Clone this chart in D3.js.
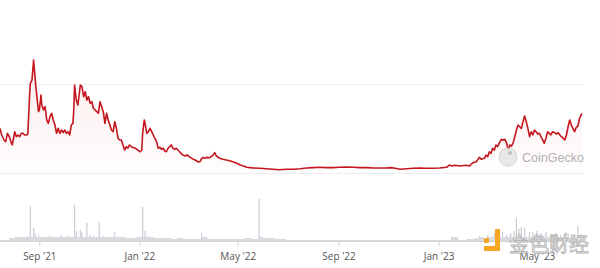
<!DOCTYPE html>
<html>
<head>
<meta charset="utf-8">
<script src="https://cdn.jsdelivr.net/npm/d3@7"></script>
<style>
  body { margin: 0; background: #fff; }
  svg { display: block; font-family: "Open Sans", sans-serif; }
</style>
</head>
<body>
<svg id="chart"></svg>
<script>
const priceDates = [
  "2021-07-15","2021-07-17","2021-07-20","2021-07-22","2021-07-24","2021-07-26","2021-07-29","2021-07-30",
  "2021-08-02","2021-08-04","2021-08-06","2021-08-08","2021-08-10","2021-08-12","2021-08-14","2021-08-17",
  "2021-08-18","2021-08-20","2021-08-21","2021-08-23","2021-08-25","2021-08-27","2021-08-29","2021-08-31",
  "2021-09-01","2021-09-03","2021-09-04","2021-09-06","2021-09-08","2021-09-10","2021-09-12","2021-09-14",
  "2021-09-16","2021-09-18","2021-09-20","2021-09-22","2021-09-24","2021-09-26","2021-09-28","2021-09-30",
  "2021-10-02","2021-10-04","2021-10-06","2021-10-08","2021-10-10","2021-10-12","2021-10-13","2021-10-14",
  "2021-10-16","2021-10-18","2021-10-21","2021-10-23","2021-10-25","2021-10-27","2021-10-29","2021-10-31",
  "2021-11-02","2021-11-04","2021-11-06","2021-11-10","2021-11-12",
  "2021-11-14","2021-11-16","2021-11-18","2021-11-20","2021-11-22","2021-11-24","2021-11-26","2021-11-28",
  "2021-11-30","2021-12-02","2021-12-04","2021-12-06","2021-12-08","2021-12-10","2021-12-12","2021-12-14",
  "2021-12-16","2021-12-18","2021-12-20","2021-12-23","2021-12-24","2021-12-27","2021-12-29","2021-12-31",
  "2022-01-02","2022-01-04","2022-01-05","2022-01-07","2022-01-08","2022-01-10","2022-01-12","2022-01-14",
  "2022-01-16","2022-01-18","2022-01-20","2022-01-22","2022-01-24","2022-01-26","2022-01-28","2022-01-30",
  "2022-02-01","2022-02-03","2022-02-05","2022-02-07","2022-02-09","2022-02-11","2022-02-13","2022-02-15",
  "2022-02-17","2022-02-19","2022-02-21","2022-02-23","2022-02-26","2022-02-28","2022-03-02","2022-03-04",
  "2022-03-06","2022-03-08","2022-03-10","2022-03-12","2022-03-14","2022-03-16",
  "2022-03-18","2022-03-20","2022-03-22","2022-03-24","2022-03-28","2022-04-01","2022-04-03","2022-04-05",
  "2022-04-09","2022-04-13","2022-04-17","2022-04-21","2022-04-25","2022-04-30","2022-05-04","2022-05-08",
  "2022-05-12","2022-05-16","2022-05-20","2022-05-28","2022-06-05","2022-06-13","2022-06-21","2022-06-29",
  "2022-07-08","2022-07-16","2022-07-24","2022-08-01","2022-08-09","2022-08-17","2022-08-25","2022-09-02",
  "2022-09-11","2022-09-19","2022-09-27","2022-10-05","2022-10-13","2022-10-21","2022-10-29","2022-11-04",
  "2022-11-09","2022-11-15",
  "2022-11-23","2022-12-01","2022-12-09","2022-12-17","2022-12-25","2023-01-02","2023-01-11","2023-01-14",
  "2023-01-17","2023-01-21","2023-01-27","2023-02-04","2023-02-08","2023-02-10","2023-02-12","2023-02-16",
  "2023-02-20","2023-02-22","2023-02-26","2023-02-28","2023-03-02","2023-03-04","2023-03-06","2023-03-08",
  "2023-03-10","2023-03-12","2023-03-14","2023-03-17","2023-03-19","2023-03-21","2023-03-23","2023-03-25",
  "2023-03-27","2023-03-29","2023-03-31","2023-04-02","2023-04-04","2023-04-06","2023-04-08","2023-04-10",
  "2023-04-12","2023-04-14","2023-04-16","2023-04-18","2023-04-20","2023-04-22","2023-04-24","2023-04-26",
  "2023-04-28","2023-04-30","2023-05-02","2023-05-04","2023-05-06","2023-05-08","2023-05-10","2023-05-12",
  "2023-05-14","2023-05-16","2023-05-18","2023-05-20","2023-05-23","2023-05-25","2023-05-27","2023-05-29",
  "2023-05-31","2023-06-02","2023-06-04","2023-06-06","2023-06-08","2023-06-10","2023-06-12","2023-06-14",
  "2023-06-16","2023-06-18","2023-06-20","2023-06-22","2023-06-24","2023-06-25"
];
const prices = [
  0.0502,0.0427,0.0371,0.0352,0.0446,0.0416,0.0334,0.0315,
  0.0464,0.0408,0.0427,0.0408,0.0446,0.0446,0.0427,0.0427,
  0.0446,0.0857,0.1008,0.1045,0.1270,0.1045,0.0857,0.0689,
  0.0708,0.0876,0.0764,0.0708,0.0745,0.0596,0.0558,0.0633,
  0.0671,0.0596,0.0539,0.0446,0.0502,0.0446,0.0483,0.0453,
  0.0483,0.0446,0.0464,0.0427,0.0539,0.0558,0.0708,0.0989,
  0.0820,0.0764,0.0989,0.0970,0.0857,0.0913,0.0820,0.0857,
  0.0783,0.0801,0.0727,0.0689,0.0671,
  0.0801,0.0745,0.0689,0.0558,0.0671,0.0596,0.0539,0.0483,
  0.0464,0.0576,0.0502,0.0390,0.0371,0.0371,0.0315,0.0258,
  0.0296,0.0278,0.0315,0.0289,0.0289,0.0278,0.0266,0.0251,
  0.0239,0.0258,0.0446,0.0596,0.0558,0.0446,0.0464,0.0502,
  0.0464,0.0427,0.0390,0.0352,0.0278,0.0289,0.0266,0.0278,
  0.0247,0.0239,0.0278,0.0296,0.0315,0.0278,0.0266,0.0278,
  0.0258,0.0239,0.0221,0.0202,0.0191,0.0202,0.0191,0.0176,
  0.0165,0.0154,0.0146,0.0135,0.0124,0.0129,
  0.0163,0.0176,0.0165,0.0176,0.0172,0.0202,0.0228,0.0191,
  0.0165,0.0154,0.0146,0.0138,0.0127,0.0109,0.0090,0.0079,
  0.0064,0.0060,0.0056,0.0053,0.0048,0.0042,0.0037,0.0042,
  0.0042,0.0048,0.0056,0.0060,0.0064,0.0060,0.0060,0.0064,
  0.0067,0.0064,0.0060,0.0060,0.0056,0.0056,0.0056,0.0060,
  0.0053,0.0042,
  0.0048,0.0053,0.0056,0.0053,0.0053,0.0056,0.0064,0.0090,
  0.0079,0.0087,0.0079,0.0087,0.0079,0.0101,0.0116,0.0127,
  0.0176,0.0154,0.0165,0.0202,0.0183,0.0239,0.0221,0.0278,
  0.0258,0.0315,0.0296,0.0352,0.0379,0.0371,0.0379,0.0334,
  0.0258,0.0315,0.0303,0.0340,0.0408,0.0483,0.0539,0.0520,
  0.0502,0.0576,0.0640,0.0576,0.0502,0.0408,0.0464,0.0427,
  0.0483,0.0464,0.0438,0.0446,0.0408,0.0371,0.0334,0.0390,
  0.0464,0.0446,0.0427,0.0464,0.0453,0.0438,0.0453,0.0427,
  0.0408,0.0390,0.0371,0.0427,0.0520,0.0596,0.0539,0.0502,
  0.0464,0.0513,0.0528,0.0615,0.0652,0.0671
];

const volumeDates = [
  "2021-07-16","2021-07-23","2021-07-27","2021-08-03","2021-08-10","2021-08-17","2021-08-19","2021-08-21",
  "2021-08-25","2021-08-27","2021-08-31","2021-09-07","2021-09-14","2021-09-21","2021-09-28","2021-10-05",
  "2021-10-14","2021-10-16","2021-10-21","2021-10-23","2021-10-29","2021-11-02","2021-11-06","2021-11-13",
  "2021-11-18","2021-11-25","2021-12-02","2021-12-09","2021-12-16","2021-12-23","2021-12-30","2022-01-05",
  "2022-01-08","2022-01-12","2022-01-19","2022-01-26","2022-02-02","2022-02-09","2022-02-16","2022-02-23",
  "2022-03-02","2022-03-09","2022-03-18","2022-03-25","2022-04-06","2022-04-20","2022-05-04","2022-05-10",
  "2022-05-18","2022-05-27","2022-06-01","2022-06-15","2022-06-29","2022-07-15","2022-08-01","2022-08-15",
  "2022-09-01","2022-09-15","2022-10-01","2022-10-15","2022-11-01","2022-11-15","2022-12-01","2022-12-15",
  "2023-01-01","2023-01-17","2023-01-25","2023-02-05","2023-02-15","2023-02-20","2023-02-25","2023-03-02",
  "2023-03-06","2023-03-10","2023-03-15","2023-03-20","2023-03-25","2023-03-30","2023-04-03","2023-04-06",
  "2023-04-09","2023-04-12","2023-04-16","2023-04-22","2023-04-26","2023-05-01","2023-05-06","2023-05-12",
  "2023-05-18","2023-05-24","2023-05-30","2023-06-05","2023-06-08","2023-06-12","2023-06-16","2023-06-20",
  "2023-06-24"
];
const volumes = [
  1,1,3,4,4,4,5,35,
  13,8,6,4,5,4,6,5,
  36,10,11,9,18,6,5,19,
  5,4,9,4,3,3,4,34,
  10,5,3,3,3,2,3,2,
  2,2,8,2,2,2,2,3,
  2,42,3,2,1,1,1,1,
  1,1,1,1,1,1,1,1,
  1,4,1,2,3,5,3,6,
  4,8,5,9,6,8,10,23,
  12,14,13,9,9,10,8,9,
  7,8,6,9,8,7,6,15,
  7
];

const tickDates = ["2021-09-01","2022-01-01","2022-05-01","2022-09-01","2023-01-01","2023-05-01"];
const tickLabels = ["Sep '21","Jan '22","May '22","Sep '22","Jan '23","May '23"];
const gridValues = [0, 0.1];

const width = 600, height = 268;
const parse = d3.utcParse("%Y-%m-%d");

const priceData = priceDates.map((d, i) => ({ date: parse(d), value: prices[i] }));
const volumeData = volumeDates.map((d, i) => ({ date: parse(d), value: volumes[i] }));

const svg = d3.select("#chart").attr("width", width).attr("height", height);

const x = d3.scaleUtc()
  .domain([parse("2021-07-15"), parse("2023-06-25")])
  .range([0, 582]);

const y = d3.scaleLinear().domain([0, 0.1]).range([173, 84]);
const yVol = d3.scaleLinear().domain([0, 50]).range([241, 191]);

// grid lines
svg.append("g")
  .selectAll("line")
  .data(gridValues)
  .join("line")
  .attr("x1", 0)
  .attr("x2", 583)
  .attr("y1", (d) => Math.round(y(d)) + 0.5)
  .attr("y2", (d) => Math.round(y(d)) + 0.5)
  .attr("stroke", "#eeeeee")
  .attr("stroke-width", 1);

// area fill
const defs = svg.append("defs");
const grad = defs.append("linearGradient")
  .attr("id", "fade")
  .attr("x1", 0).attr("x2", 0).attr("y1", 0).attr("y2", 1);
grad.append("stop").attr("offset", "0%").attr("stop-color", "#d32f2f").attr("stop-opacity", 0.09);
grad.append("stop").attr("offset", "100%").attr("stop-color", "#d32f2f").attr("stop-opacity", 0.01);

const area = d3.area()
  .x((d) => x(d.date))
  .y0(y(0))
  .y1((d) => y(d.value));

svg.append("path")
  .datum(priceData)
  .attr("fill", "url(#fade)")
  .attr("d", area);

// price line
const line = d3.line()
  .x((d) => x(d.date))
  .y((d) => y(d.value));

svg.append("path")
  .datum(priceData)
  .attr("fill", "none")
  .attr("stroke", "#c4161c")
  .attr("stroke-width", 1.6)
  .attr("stroke-linejoin", "round")
  .attr("d", line);

// volume bars
svg.append("g")
  .selectAll("rect")
  .data(volumeData)
  .join("rect")
  .attr("x", (d) => x(d.date) - 0.6)
  .attr("width", 1.2)
  .attr("y", (d) => yVol(d.value))
  .attr("height", (d) => yVol(0) - yVol(d.value))
  .attr("fill", "#c9ccd3");

// volume base fill between sparse bars
const volArea = d3.area()
  .x((d) => x(d.date))
  .y0(yVol(0))
  .y1((d) => yVol(Math.min(d.value, 4)))
  .curve(d3.curveStepAfter);

svg.append("path")
  .datum(volumeData)
  .attr("fill", "#d9dbe0")
  .attr("d", volArea);

// x axis
const xAxis = d3.axisBottom(x)
  .tickValues(tickDates.map(parse))
  .tickFormat((d, i) => tickLabels[i])
  .tickSize(5)
  .tickSizeOuter(0);

const axisG = svg.append("g")
  .attr("transform", `translate(0, ${yVol(0)})`)
  .call(xAxis);
axisG.select(".domain").attr("stroke", "#cfd2d8").attr("d", "M0,0.5H583");
axisG.selectAll(".tick line").attr("stroke", "#cfd2d8");
axisG.selectAll(".tick text")
  .attr("fill", "#555")
  .attr("font-size", 10)
  .attr("dy", "1.1em")
  .attr("font-family", "'Open Sans', sans-serif");

// CoinGecko watermark
const wm = svg.append("g").attr("opacity", 0.9);
wm.append("circle").attr("cx", 508).attr("cy", 157).attr("r", 9)
  .attr("fill", "#e6e6e6").attr("stroke", "#cfcfcf");
wm.append("circle").attr("cx", 510).attr("cy", 153).attr("r", 2).attr("fill", "#bbb");
wm.append("text").attr("x", 522).attr("y", 161.5)
  .attr("font-size", 12.5).attr("fill", "#aaaaaa")
  .attr("font-family", "'Liberation Sans', Arial, sans-serif")
  .text("CoinGecko");

// Jinse watermark
const js = svg.append("g");
js.append("rect").attr("x", 484).attr("y", 238).attr("width", 5).attr("height", 5)
  .attr("rx", 1).attr("fill", "#f5a623");
js.append("path")
  .attr("d", "M491,229h9v22h-16v-5h11v-17z")
  .attr("fill", "#f5a623");
js.append("text").attr("x", 509).attr("y", 252)
  .attr("font-size", 20)
  .attr("font-family", "'Noto Sans CJK SC', sans-serif")
  .attr("fill", "#ececec")
  .attr("fill-opacity", 0.85)
  .attr("stroke", "#b5b5b5")
  .attr("stroke-width", 0.8)
  .text("金色财经");
</script>
</body>
</html>
